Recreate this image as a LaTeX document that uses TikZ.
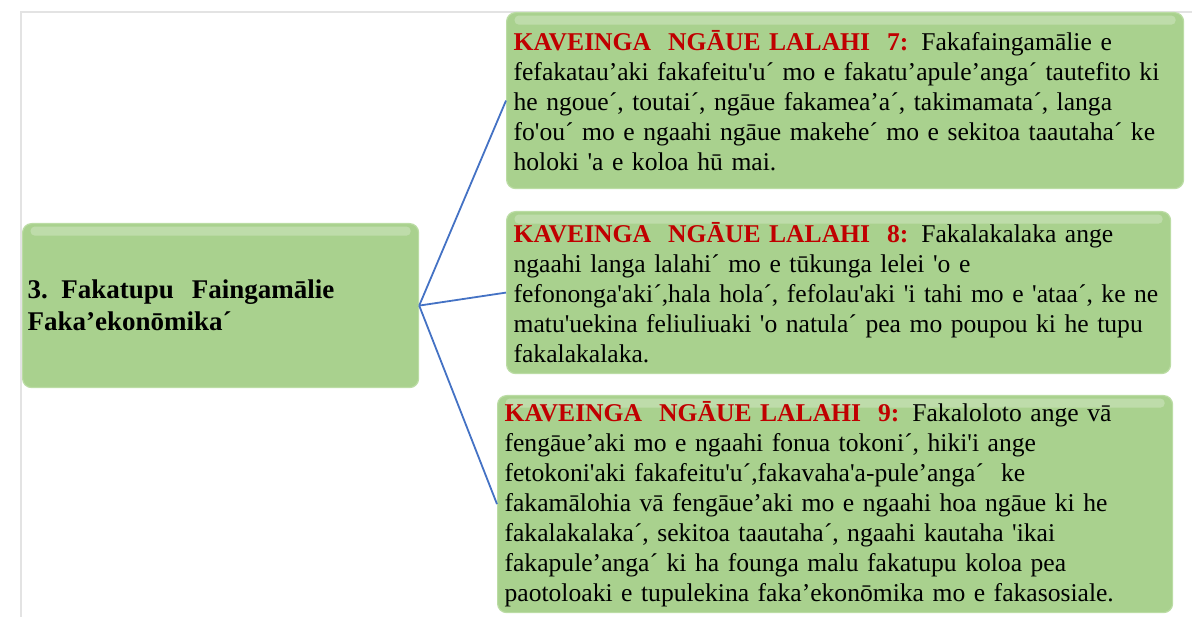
\documentclass[tikz,border=0pt]{standalone}
\usepackage{fontspec}
\setmainfont{Liberation Serif}
\usetikzlibrary{positioning}
\definecolor{boxgreen}{HTML}{A9D18E}
\definecolor{boxedge}{HTML}{BBDCA4}
\definecolor{kred}{HTML}{C00000}
\definecolor{linkblue}{HTML}{4472C4}
\definecolor{framegray}{HTML}{E3E3E3}
\newcommand{\sq}{\textquotesingle}
\newcommand{\kav}[1]{\textcolor{kred}{\textbf{KAVEINGA\ \ NGĀUE LALAHI\ \ #1:}}}

\begin{document}
\begin{tikzpicture}[x=1pt,y=-1pt,
  gbox/.style={draw=boxedge, line width=1.2pt, fill=boxgreen, rounded corners=9pt,
    anchor=north west, align=left, inner xsep=7pt, inner ysep=0pt,
    font=\fontsize{25.6}{30}\selectfont,
    path picture={\fill[white,opacity=0.25,rounded corners=4pt]
      ([xshift=8pt,yshift=-3pt]path picture bounding box.north west) rectangle
      ([xshift=-8pt,yshift=-12pt]path picture bounding box.north east);}},
  link/.style={draw=linkblue, line width=1.8pt}]
\useasboundingbox (0,0) rectangle (1192,617);
\draw[framegray, line width=2pt] (1192,12.5) -- (20.5,12.5) -- (20.5,617);

% main goal
\node[gbox, minimum width=396pt, minimum height=164pt, text width=386pt, inner xsep=5pt,
  font=\fontsize{27}{32}\selectfont\bfseries] (goal) at (22,223)
  {3. Fakatupu\ \ Faingamālie\\ Faka’ekonōmika´};

% the three objectives
\node[gbox, minimum width=677pt, minimum height=176pt, text width=663pt] (k7) at (506,12)
  {\kav{7} Fakafaingamālie e\\
   fefakatau’aki\ fakafeitu\sq u´ mo e fakatu’apule’anga´\ tautefito ki\\
   he ngoue´, toutai´, ngāue\ fakamea’a´,\ takimamata´, langa\\
   fo\sq ou´ mo e ngaahi\ ngāue makehe´ mo e sekitoa taautaha´\ ke\\
   holoki \sq a e koloa hū mai.};
\node[gbox, minimum width=664pt, minimum height=162pt, text width=650pt] (k8) at (506,211)
  {\kav{8} Fakalakalaka\ ange\\
   ngaahi\ langa lalahi´\ mo e tūkunga\ lelei \sq o e\\
   fefononga\sq aki´,hala hola´, fefolau\sq aki \sq i tahi mo e \sq ataa´, ke ne\\
   matu\sq uekina\ feliuliuaki \sq o natula´\ pea mo poupou ki he tupu\\
   fakalakalaka.};
\node[gbox, minimum width=675pt, minimum height=217pt, text width=661pt, inner xsep=7pt] (k9) at (497,395)
  {\kav{9} Fakaloloto ange vā\\
   fengāue’aki\ mo e ngaahi\ fonua tokoni´, hiki\sq i ange\\
   fetokoni\sq aki fakafeitu\sq u´,fakavaha\sq a-pule’anga´\ \ ke\\
   fakamālohia vā fengāue’aki\ mo e ngaahi\ hoa ngāue ki he\\
   fakalakalaka´,\ sekitoa taautaha´, ngaahi\ kautaha \sq ikai\\
   fakapule’anga´\ ki ha founga malu fakatupu\ koloa pea\\
   paotoloaki e tupulekina\ faka’ekonōmika mo e fakasosiale.};

\draw[link] (goal.east) -- (k7.west);
\draw[link] (goal.east) -- (k8.west);
\draw[link] (goal.east) -- (k9.west);
\end{tikzpicture}
\end{document}
